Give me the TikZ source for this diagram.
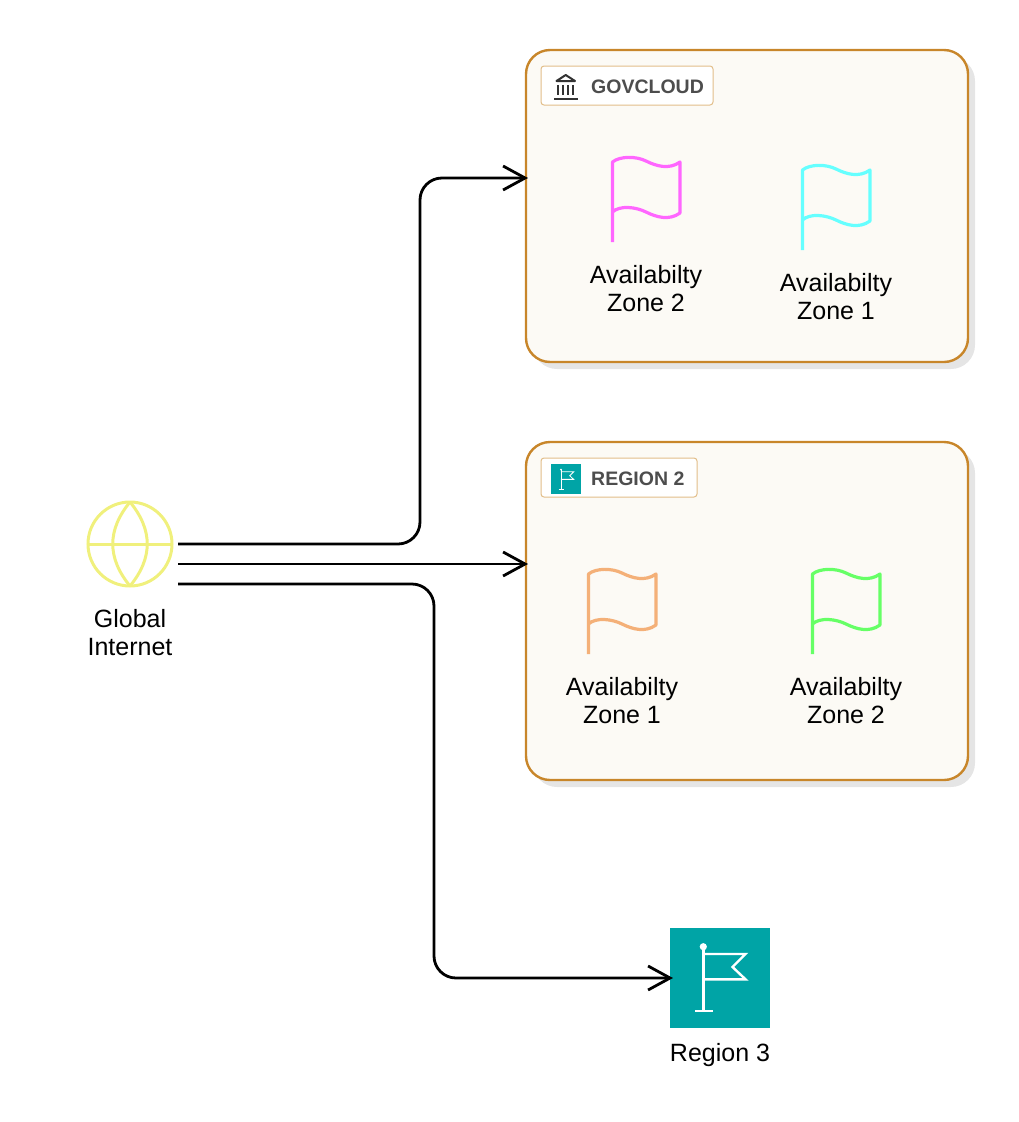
\documentclass[tikz,border=0pt]{standalone}
\usepackage{fontspec}
\setmainfont{Liberation Sans}
\usetikzlibrary{arrows.meta,shadows,positioning}

\definecolor{zoneline}{HTML}{C8862A}
\definecolor{zonefill}{HTML}{FCFAF5}
\definecolor{tagline}{HTML}{E2BE8A}
\definecolor{tagtext}{HTML}{4D4D4D}
\definecolor{regionteal}{HTML}{00A4A6}
\definecolor{globeline}{HTML}{F0F07C}
\definecolor{flagpink}{HTML}{FF66FF}
\definecolor{flagcyan}{HTML}{66FFFF}
\definecolor{flagorange}{HTML}{F4B078}
\definecolor{flaggreen}{HTML}{66FF66}

\begin{document}
\begin{tikzpicture}[%
    x=1pt, y=-1pt,
    >={Straight Barb[length=22pt,width=24pt,line width=2.8pt]},
    ]
% -------------------------------------------------
% Box, label and connector styles
\tikzset{
  zonebox/.style={draw=zoneline, fill=zonefill, line width=2.4pt, rounded corners=24pt,
    anchor=north west, outer sep=0pt, minimum width=442pt,
    drop shadow={shadow xshift=7pt, shadow yshift=-7pt, fill=black!10, opacity=1}},
  tagbox/.style={draw=tagline, fill=white, line width=1pt, rounded corners=3pt,
    anchor=north west, outer sep=0pt, minimum height=39pt},
  tagtitle/.style={font=\fontsize{19.5}{23}\selectfont\bfseries, text=tagtext, anchor=west, inner sep=0pt},
  tealbox/.style={fill=regionteal, anchor=north west, inner sep=0pt, outer sep=0pt},
  it/.style={font=\fontsize{25}{28}\selectfont, align=center, inner sep=0pt, text=black},
  link/.style={->, line width=2.8pt, rounded corners=22pt},
  globeicon/.style={circle, draw=globeline, line width=3pt, minimum size=84pt, inner sep=0pt, outer sep=0pt},
  % Waving flag, origin at the top of its pole
  pics/zoneflag/.style={code={
    \draw [#1, line width=3.2pt, line join=round]
      (0.5,84) -- (0.5,4) .. controls (8,-2) and (24,-2) .. (34,3)
      .. controls (44,8) and (57,12) .. (68,4) -- (68,55)
      .. controls (57,63) and (44,59) .. (34,54)
      .. controls (24,49) and (8,47) .. (0.5,54);
  }},
  % White flag of a region, drawn on a 100 x 100 tile
  pics/regionflag/.style={code={
    \draw [white] (33.3,19) -- (33.3,83) (25,83) -- (42.7,83);
    \fill [white] (33.3,18.7) circle (3.6);
    \draw [white] (33.3,26) -- (75.5,26) -- (62.5,39) -- (75.5,51.3) -- (33.3,51.3);
  }},
}
\useasboundingbox (0,0) rectangle (1018,1122);
% -------------------------------------------------
% Start by placing the boxes
\node [zonebox, minimum height=312pt] (gov) at (526,50) {};
\node [zonebox, minimum height=338pt] (reg2) at (526,442) {};

\node [tagbox, minimum width=172pt] (govtag) at (541,66) {};
\node [tagtitle] (govname) at (591,87) {GOVCLOUD};
\node [tagbox, minimum width=156pt] (regtag) at (541,458) {};
\node [tagtitle] (regname) at (591,479) {REGION 2};

% Small icons of the two labels
\draw [black!80, line width=2pt, line join=round]
  (556.5,81) -- (565.7,75) -- (575,81) -- cycle;
\draw [black!80, line width=2pt]
  (558.3,85) -- (558.3,95) (563.3,85) -- (563.3,95) (568.3,85) -- (568.3,95)
  (573.3,85) -- (573.3,95) (554,99.3) -- (578,99.3);
\node [tealbox, minimum size=30pt] (regicon) at (551,464) {};
\pic [scale=0.3, line width=0.8pt] at (regicon.north west) {regionflag};

% Flags and their names
\pic at (612,158) {zoneflag=flagpink};
\node [it] (az2a) at (646,289) {Availabilty\\Zone 2};
\pic at (802,166) {zoneflag=flagcyan};
\node [it] (az1a) at (836,297) {Availabilty\\Zone 1};
\pic at (588,570) {zoneflag=flagorange};
\node [it] (az1b) at (622,701) {Availabilty\\Zone 1};
\pic at (812,570) {zoneflag=flaggreen};
\node [it] (az2b) at (846,701) {Availabilty\\Zone 2};

% Region 3
\node [tealbox, minimum size=100pt] (reg3) at (670,928) {};
\pic [line width=2.4pt] at (reg3.north west) {regionflag};
\node [it] (reg3name) at (720,1055) {Region 3};

% Globe
\node [globeicon] (globe) at (130,544) {};
\draw [globeline, line width=3pt] (globe.west) -- (globe.east);
\draw [globeline, line width=3pt] (globe.north) .. controls +(-23,28) and +(-23,-28) .. (globe.south);
\draw [globeline, line width=3pt] (globe.north) .. controls +(23,28) and +(23,-28) .. (globe.south);
\node [it] (globename) at (130,633) {Global\\Internet};

% -------------------------------------------------
% Connectors
\coordinate (outa) at (178,544);
\coordinate (outb) at (178,564);
\coordinate (outc) at (178,584);
\coordinate (ina) at (528,178);
\coordinate (inb) at (528,564);
\coordinate (inc) at (673,978);

\draw [link] (outa) -- (420,544) -- (420,178) -- (ina);
\draw [link] (outb) -- (inb);
\draw [link] (outc) -- (434,584) -- (434,978) -- (inc);
% -------------------------------------------------
\end{tikzpicture}
\end{document}
